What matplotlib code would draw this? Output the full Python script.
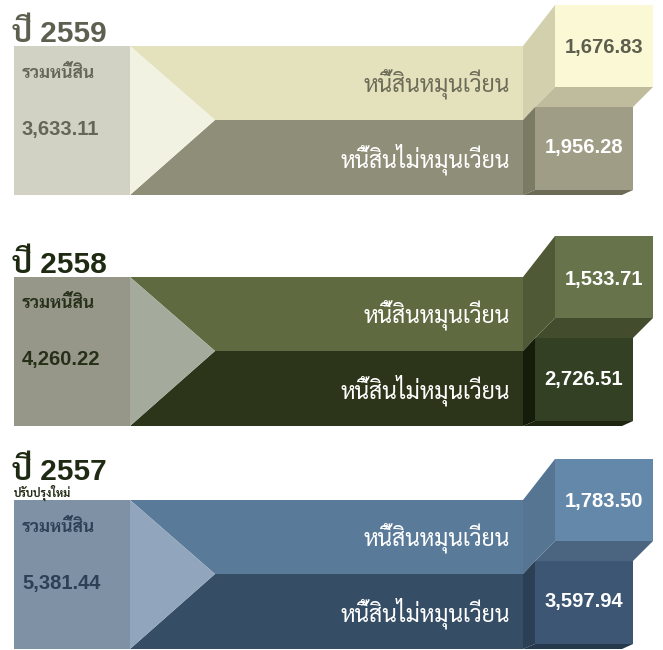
import matplotlib
matplotlib.use("Agg")
import matplotlib.pyplot as plt
from matplotlib.patches import Polygon

# data
years = ["2559", "2558", "2557"]
notes = ["", "", "ปรับปรุงใหม่"]
total = [3633.11, 4260.22, 5381.44]
current = [1676.83, 1533.71, 1783.50]
noncurrent = [1956.28, 2726.51, 3597.94]
lbl_total = "รวมหนี้สิน"
lbl_current = "หนี้สินหมุนเวียน"
lbl_noncurrent = "หนี้สินไม่หมุนเวียน"

# layout (pixels, y downward), one panel
offsets = [0, 231, 454]
title_base = [42, 273, 480]

# colours per panel
pal = [
    dict(left="#d1d1c4", tri="#f2f2e2", top="#e4e2bd", bot="#8f8e78",
         front1="#fbf9d5", side1="#d3d0ae", under1="#bebc9c",
         front2="#9f9d86", side2="#7b7a63", shade="#6c6b57",
         title="#5e604f", ltxt="#65655a", toplbl="#6d6c58", v1="#5e5e4e"),
    dict(left="#969789", tri="#a4aa9c", top="#5f6a40", bot="#2c3519",
         front1="#67744b", side1="#4f5936", under1="#434d2e",
         front2="#344024", side2="#151c09", shade="#1e2610",
         title="#1e2a12", ltxt="#263019", toplbl="white", v1="white"),
    dict(left="#7f91a4", tri="#91a6bc", top="#5a7a99", bot="#364d66",
         front1="#6488aa", side1="#557593", under1="#4b6580",
         front2="#3c5673", side2="#2b3f55", shade="#26384b",
         title="#1e2a12", ltxt="#2e4055", toplbl="white", v1="white"),
]

thai = ["Sarabun", "DejaVu Sans"]
num = ["Liberation Sans", "Sarabun"]

fig = plt.figure(figsize=(6.63, 6.5), dpi=100)
ax = fig.add_axes([0, 0, 1, 1])
ax.set_xlim(0, 663)
ax.set_ylim(650, 0)
ax.axis("off")


def poly(pts, dy, color):
    ax.add_patch(Polygon([(x, y + dy) for x, y in pts], closed=True,
                         facecolor=color, edgecolor="none"))


for i, yr in enumerate(years):
    d = offsets[i]
    c = pal[i]
    poly([(14, 46), (130, 46), (130, 195), (14, 195)], d, c["left"])
    poly([(130, 46), (523, 46), (523, 120), (215, 120)], d, c["top"])
    poly([(215, 120), (523, 120), (523, 195), (130, 195)], d, c["bot"])
    poly([(130, 46), (215, 120), (130, 195)], d, c["tri"])
    # upper cube
    poly([(523, 46), (555, 5), (555, 87), (535, 107), (523, 120)], d, c["side1"])
    poly([(555, 5), (653, 5), (653, 87), (555, 87)], d, c["front1"])
    poly([(555, 87), (653, 87), (633, 107), (535, 107)], d, c["under1"])
    # lower cube
    poly([(523, 120), (535, 107), (535, 190), (523, 195)], d, c["side2"])
    poly([(535, 190), (633, 190), (622, 195), (523, 195)], d, c["shade"])
    poly([(535, 107), (633, 107), (633, 190), (535, 190)], d, c["front2"])

    ax.text(12, title_base[i], "ปี " + yr, family=num, fontsize=21.5,
            weight="bold", color=c["title"], ha="left", va="baseline")
    if notes[i]:
        ax.text(14, 497, notes[i], family=thai, fontsize=8, weight="bold",
                color=c["title"], ha="left", va="baseline")

    ax.text(22, 73 + d, lbl_total, family=thai, fontsize=12.5, weight="bold",
            color=c["ltxt"], ha="left", va="center")
    ax.text(22, 129 + d, f"{total[i]:,.2f}", family=num, fontsize=14.5,
            weight="bold", color=c["ltxt"], ha="left", va="center")

    ax.text(510, 84 + d, lbl_current, family=thai, fontsize=16.5,
            color=c["toplbl"], ha="right", va="center")
    ax.text(510, 159 + d, lbl_noncurrent, family=thai, fontsize=16.5,
            color="white", ha="right", va="center")

    ax.text(604, 48 + d, f"{current[i]:,.2f}", family=num, fontsize=14.5,
            weight="bold", color=c["v1"], ha="center", va="center")
    ax.text(584, 148 + d, f"{noncurrent[i]:,.2f}", family=num, fontsize=14.5,
            weight="bold", color="white", ha="center", va="center")

fig.savefig("out.png", dpi=100)
